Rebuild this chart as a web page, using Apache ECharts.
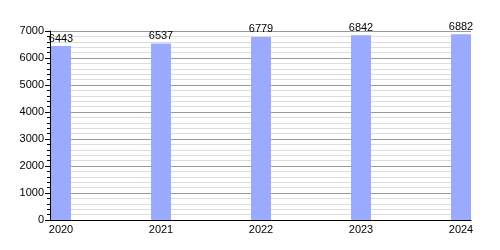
<!DOCTYPE html>
<html><head><meta charset="utf-8">
<script src="https://cdn.jsdelivr.net/npm/echarts@6/dist/echarts.min.js"></script>
<style>html,body{margin:0;padding:0;background:#fff}#c{width:500px;height:250px}</style>
</head><body><div id="c"></div>
<script>
const years = [2020, 2021, 2022, 2023, 2024];
const values = [6443, 6537, 6779, 6842, 6882];
const yTicks = [0, 1000, 2000, 3000, 4000, 5000, 6000, 7000];

const chart = echarts.init(document.getElementById('c'));
const font = 'Liberation Sans, Arial, sans-serif';
chart.setOption({
  animation: false,
  grid: {left: 50, right: 29, top: 31, bottom: 30, containLabel: false},
  xAxis: {
    type: 'value', min: 2019.89, max: 2024.1,
    axisLine: {show: true, onZero: false, lineStyle: {color: '#000', width: 1}},
    axisTick: {show: false},
    splitLine: {show: false},
    axisLabel: {customValues: years, color: '#000', fontSize: 11, fontFamily: font, margin: 4,
      formatter: v => String(Math.round(v))}
  },
  yAxis: {
    type: 'value', min: 0, max: 7000, interval: 1000,
    axisLine: {show: true, lineStyle: {color: '#000', width: 1}},
    axisTick: {show: true, length: 5, lineStyle: {color: '#000'}},
    minorTick: {show: true, splitNumber: 5, length: 3, lineStyle: {color: '#000'}},
    splitLine: {show: true, lineStyle: {color: '#999', width: 1}},
    minorSplitLine: {show: true, lineStyle: {color: '#ddd', width: 1}},
    axisLabel: {customValues: yTicks, color: '#000', fontSize: 11, fontFamily: font, margin: 6,
      formatter: v => String(v)}
  },
  series: [{
    type: 'bar', barWidth: 20,
    data: years.map((y, i) => [y, values[i]]),
    itemStyle: {color: '#99aaff'},
    label: {show: true, position: 'top', distance: 2, color: '#000', fontSize: 11, fontFamily: font}
  }]
});
</script></body></html>
